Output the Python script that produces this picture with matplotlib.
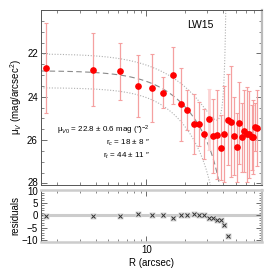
import numpy as np
import matplotlib
matplotlib.use('Agg')
import matplotlib.pyplot as plt
from matplotlib.ticker import FixedLocator, MultipleLocator, NullFormatter, FixedFormatter
from matplotlib.transforms import ScaledTranslation

plt.rcParams['font.family'] = ['Liberation Sans', 'DejaVu Sans']
plt.rcParams['mathtext.fontset'] = 'custom'
plt.rcParams['mathtext.rm'] = 'Liberation Sans'
plt.rcParams['mathtext.it'] = 'Liberation Sans:italic'
plt.rcParams['mathtext.bf'] = 'Liberation Sans:bold'

# ---------------- data ----------------
radius = [1.62, 3.78, 6.20, 8.62, 11.1, 13.5, 16.05, 18.5, 20.97, 23.4,
          25.9, 28.2, 31.0, 33.4, 35.9, 38.2, 40.8, 43.3, 45.7, 48.5,
          50.9, 53.1, 55.7, 58.2, 61.0, 63.6, 66.7, 68.7, 71.0, 73.6]
mu = [22.69, 22.76, 22.82, 23.51, 23.61, 23.81, 23.01, 24.35, 24.61, 25.27,
      25.26, 25.73, 25.04, 25.82, 25.76, 26.35, 25.72, 25.07, 25.15, 25.81,
      26.34, 25.20, 25.87, 25.57, 25.73, 25.73, 25.86, 25.86, 25.41, 25.43]
mu_err = [2.07, 1.69, 1.31, 1.42, 1.56, 0.70, 1.32, 1.69, 0.92, 1.38,
          1.01, 1.15, 1.40, 1.70, 2.05, 1.50, 2.20, 2.10, 2.56, 1.80,
          1.60, 1.90, 1.60, 1.90, 2.20, 2.00, 1.50, 1.70, 1.10, 1.76]
pale_index = 12   # the one point whose error bar is drawn paler

# King fit parameters
mu0, mu0_err = 22.8, 0.6
r_c, r_c_err = 18.0, 8.0
r_t, r_t_err = 44.0, 11.0
band_centre_err = 0.78
rho_mu_rc = 0.3

label_text = "LW15"
y_ticks_main = [22, 24, 26, 28]
y_ticks_res = [10, 5, 0, -5, -10]


def king(r, m0, rc, rt):
    r = np.asarray(r, dtype=float)
    f = 1.0 / np.sqrt(1.0 + (r / rc) ** 2)
    c = 1.0 / np.sqrt(1.0 + (rt / rc) ** 2)
    g = (f - c) / (1.0 - c)
    with np.errstate(invalid='ignore', divide='ignore'):
        out = m0 - 5.0 * np.log10(g)
    out[g <= 0] = np.nan
    return out


def king_sigma(r):
    h = 1e-4
    d_rc = (king(r, mu0, r_c + h, r_t) - king(r, mu0, r_c - h, r_t)) / (2 * h)
    d_rt = (king(r, mu0, r_c, r_t + h) - king(r, mu0, r_c, r_t - h)) / (2 * h)
    var = (band_centre_err ** 2 + (d_rc * r_c_err) ** 2 + (d_rt * r_t_err) ** 2
           + 2 * rho_mu_rc * band_centre_err * d_rc * r_c_err)
    return np.sqrt(var)


fig = plt.figure(figsize=(2.7, 2.7), dpi=100)
ax = fig.add_axes([0.1507, 0.3148, 0.8196, 0.6482])
axr = fig.add_axes([0.1507, 0.1037, 0.8196, 0.1944])

xlim = (1.48, 80.6)

# model curves
rr = np.logspace(np.log10(xlim[0]), np.log10(r_t * 0.99999), 3000)
model = king(rr, mu0, r_c, r_t)
sig = king_sigma(rr)
ax.plot(rr, model, color='#8a8a8a', lw=0.8, ls=(0, (5, 3)))
ax.plot(rr, model - sig, color='#b0b0b0', lw=0.8, ls=(0, (1, 1.5)))
ax.plot(rr, model + sig, color='#b0b0b0', lw=0.8, ls=(0, (1, 1.5)))

# data
rad = np.asarray(radius)
mua = np.asarray(mu)
erra = np.asarray(mu_err)
normal = np.arange(len(rad)) != pale_index
ax.errorbar(rad[~normal], mua[~normal], yerr=erra[~normal], fmt='none',
            ecolor='#fcd4d4', elinewidth=2.0, capsize=1.5, capthick=0.8, zorder=2)
ax.errorbar(rad[normal], mua[normal], yerr=erra[normal], fmt='none',
            ecolor='#f5a0a0', elinewidth=0.9, capsize=1.5, capthick=0.8, zorder=2)
ax.plot(rad, mua, ls='none', marker='o', ms=3.8, color='red', mec='red', zorder=3)

ax.set_xscale('log')
ax.set_xlim(*xlim)
ax.set_ylim(28.07, 20.0)
ax.yaxis.set_major_locator(FixedLocator(y_ticks_main))
ax.yaxis.set_minor_locator(MultipleLocator(0.5))
ax.set_ylabel(r'μ$_V$ (mag/arcsec$^2$)', fontsize=7, labelpad=2)

ax.text(0.72, 0.915, label_text, transform=ax.transAxes, fontsize=7.5,
        ha='center', va='center')
ax.text(0.494, 0.314, 'μ$_{V0}$ = 22.8 ± 0.6 mag (″)$^{-2}$', transform=ax.transAxes,
        fontsize=5.8, ha='right', va='center')
ax.text(0.494, 0.243, 'r$_c$ = 18 ± 8 ″', transform=ax.transAxes,
        fontsize=5.8, ha='right', va='center')
ax.text(0.494, 0.169, 'r$_t$ = 44 ± 11 ″', transform=ax.transAxes,
        fontsize=5.8, ha='right', va='center')

# residuals (data minus King model, inside the tidal radius)
inside = rad < r_t
resid = mua[inside] - king(rad[inside], mu0, r_c, r_t)
axr.axhline(0, color='#cccccc', lw=2.2, zorder=1)
axr.plot(rad[inside], resid, ls='none', marker='s', ms=4, mfc='#d8d8d8', mec='none', zorder=2)
axr.plot(rad[inside], resid, ls='none', marker='x', ms=3, mew=0.7, color='#333333', zorder=3)
axr.set_xscale('log')
axr.set_xlim(*xlim)
axr.set_ylim(-10.6, 10.2)
axr.yaxis.set_major_locator(FixedLocator(y_ticks_res))
axr.yaxis.set_minor_locator(MultipleLocator(1))
axr.set_ylabel('residuals', fontsize=7, labelpad=1)
axr.set_xlabel('R (arcsec)', fontsize=7, labelpad=2)

for a in (ax, axr):
    a.xaxis.set_major_locator(FixedLocator([10]))
    a.xaxis.set_major_formatter(FixedFormatter(['10']))
    a.xaxis.set_minor_locator(FixedLocator([2, 3, 4, 5, 6, 7, 8, 9, 20, 30, 40, 50, 60, 70, 80]))
    a.xaxis.set_minor_formatter(NullFormatter())
    a.tick_params(which='both', direction='in', top=True, right=True,
                  labelsize=7, colors='#555555', labelcolor='black', pad=2)
    a.tick_params(which='major', length=4, width=0.6)
    a.tick_params(which='minor', length=2, width=0.5)
    for s in a.spines.values():
        s.set_color('#555555')
        s.set_linewidth(0.7)
    a.spines['right'].set_color('#bbbbbb')
    a.spines['right'].set_linewidth(1.6)

ax.tick_params(axis='x', labelbottom=False)
axr.spines['top'].set_color('#cccccc')
axr.spines['top'].set_linewidth(1.8)
axr.spines['bottom'].set_color('#cccccc')
axr.spines['bottom'].set_linewidth(1.8)

# nudge the lowest main label and the top residual label apart a little
fig.canvas.draw()
for lab in ax.get_yticklabels():
    if lab.get_text() == '28':
        lab.set_transform(lab.get_transform() + ScaledTranslation(0, 1.2 / 72, fig.dpi_scale_trans))
for lab in axr.get_yticklabels():
    if lab.get_text() == '10':
        lab.set_transform(lab.get_transform() + ScaledTranslation(0, -1.0 / 72, fig.dpi_scale_trans))

fig.savefig('out.png', dpi=100)
